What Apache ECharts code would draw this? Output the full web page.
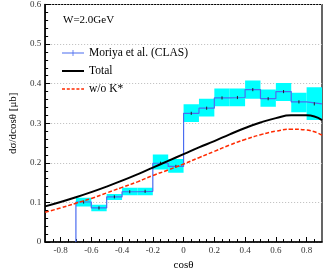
<!DOCTYPE html>
<html>
<head>
<meta charset="utf-8">
<script src="https://cdn.jsdelivr.net/npm/echarts@6/dist/echarts.min.js"></script>
<style>html,body{margin:0;padding:0;background:#fff}#c{width:327px;height:280px}</style>
</head>
<body>
<div id="c"></div>
<script>
// ---- data ----
const binCenters = [-0.65,-0.55,-0.45,-0.35,-0.25,-0.15,-0.05,0.05,0.15,0.25,0.35,0.45,0.55,0.65,0.75,0.85];
const binHalfWidth = 0.05;
const clasVals = [0.101,0.086,0.114,0.127,0.128,0.199,0.191,0.325,0.338,0.364,0.365,0.385,0.362,0.380,0.354,0.349];
const bandLow  = [0.090,0.078,0.106,0.118,0.118,0.183,0.175,0.303,0.317,0.343,0.343,0.362,0.342,0.356,0.328,0.308];
const bandHigh = [0.112,0.094,0.121,0.137,0.137,0.221,0.210,0.348,0.362,0.388,0.388,0.408,0.385,0.402,0.377,0.391];
const statErr  = [0.004,0.004,0.004,0.004,0.004,0.004,0.004,0.004,0.004,0.004,0.004,0.004,0.004,0.004,0.004,0.004];
const cosGrid  = [-0.9,-0.8,-0.7,-0.6,-0.5,-0.4,-0.3,-0.2,-0.1,0,0.1,0.2,0.3,0.4,0.5,0.6,0.7,0.8,0.9];
const totalVals= [0.090,0.101,0.113,0.126,0.140,0.155,0.171,0.188,0.205,0.222,0.239,0.255,0.272,0.288,0.302,0.313,0.320,0.320,0.308];
const woKVals  = [0.075,0.086,0.098,0.110,0.124,0.138,0.152,0.168,0.182,0.197,0.213,0.229,0.245,0.259,0.271,0.280,0.285,0.283,0.270];
const xMajorTicks = [-0.8,-0.6,-0.4,-0.2,0,0.2,0.4,0.6,0.8];
const xMinorTicks = [-0.85,-0.75,-0.7,-0.65,-0.55,-0.5,-0.45,-0.35,-0.3,-0.25,-0.15,-0.1,-0.05,0.05,0.1,0.15,0.25,0.3,0.35,0.45,0.5,0.55,0.65,0.7,0.75,0.85];

// step line points
const stepPts = [[binCenters[0]-binHalfWidth, 0]];
binCenters.forEach((c,i)=>{ stepPts.push([c-binHalfWidth, clasVals[i]]); stepPts.push([c+binHalfWidth, clasVals[i]]); });

const serif = '"Liberation Serif","DejaVu Serif",serif';
const chart = echarts.init(document.getElementById('c'));
chart.setOption({
  animation:false,
  grid:{left:37, top:4, right:5, bottom:38, show:true, borderColor:'#000', borderWidth:1.2},
  graphic:[{type:'text', left:63, top:15, style:{text:'W=2.0GeV', font:'11px '+serif, fill:'#000'}}],
  legend:{
    orient:'vertical', left:57, top:42, itemWidth:22, itemHeight:8, itemGap:6,
    textStyle:{fontFamily:serif, fontSize:11.5, color:'#000'},
    data:[
      {name:'Moriya et al. (CLAS)', icon:'path://M0,3.6h22v0.8h-22z M10.6,1h0.8v6h-0.8z'},
      {name:'Total', icon:'path://M0,3h22v2h-22z'},
      {name:'w/o K*', icon:'path://M0,3.3h3v1.4h-3z M4.8,3.3h3v1.4h-3z M9.6,3.3h3v1.4h-3z M14.4,3.3h3v1.4h-3z M19.2,3.3h2.8v1.4h-2.8z'}
    ]
  },
  xAxis:[{
    type:'value', min:-0.9, max:0.9,
    name:'cosθ', nameLocation:'middle', nameGap:17,
    nameTextStyle:{fontFamily:serif, fontSize:11, color:'#000'},
    axisLine:{onZero:false, lineStyle:{color:'#000', width:1.5}},
    axisTick:{inside:true, length:5, customValues:xMajorTicks, lineStyle:{color:'#000'}},
    axisLabel:{customValues:xMajorTicks, margin:4, fontFamily:serif, fontSize:9, color:'#333',
      formatter:v=>String(Math.round(v*10)/10)},
    splitLine:{show:false}
  },{
    type:'value', min:-0.9, max:0.9, position:'bottom',
    axisLine:{show:false, onZero:false},
    axisTick:{inside:true, length:3, customValues:xMinorTicks, lineStyle:{color:'#000'}},
    axisLabel:{show:false}, splitLine:{show:false}
  }],
  yAxis:{
    type:'value', min:0, max:0.6, interval:0.1,
    name:'dσ/dcosθ [μb]', nameLocation:'middle', nameGap:22,
    nameTextStyle:{fontFamily:serif, fontSize:11, color:'#000'},
    axisLine:{show:true, onZero:false, lineStyle:{color:'#000', width:1.5}},
    axisTick:{inside:true, length:5, lineStyle:{color:'#000'}},
    minorTick:{show:true, splitNumber:5, length:3, lineStyle:{color:'#000'}},
    axisLabel:{margin:4, fontFamily:serif, fontSize:9, color:'#333',
      formatter:v=>String(Math.round(v*10)/10)},
    splitLine:{show:true, lineStyle:{color:'#bbb', type:[1,2], width:1}}
  },
  series:[
    {
      name:'band', type:'custom', silent:true, z:1,
      data:binCenters.map((c,i)=>[c, bandLow[i], bandHigh[i]]),
      renderItem:(params, api)=>{
        const c=api.value(0), lo=api.value(1), hi=api.value(2);
        const p1=api.coord([c-binHalfWidth, hi]), p2=api.coord([c+binHalfWidth, lo]);
        return {type:'rect', shape:{x:p1[0], y:p1[1], width:p2[0]-p1[0], height:p2[1]-p1[1]},
          style:{fill:'#00ffff'}};
      },
      clip:true
    },
    {
      name:'Moriya et al. (CLAS)', type:'line', data:stepPts, symbol:'none', z:3,
      lineStyle:{color:'#4a6cf0', width:1.2}, itemStyle:{color:'#4a6cf0'}
    },
    {
      name:'err', type:'custom', silent:true, z:4,
      data:binCenters.map((c,i)=>[c, clasVals[i]-statErr[i], clasVals[i]+statErr[i]]),
      renderItem:(params, api)=>{
        const a=api.coord([api.value(0), api.value(1)]), b=api.coord([api.value(0), api.value(2)]);
        return {type:'line', shape:{x1:a[0], y1:a[1], x2:b[0], y2:b[1]}, style:{stroke:'#222', lineWidth:1}};
      }
    },
    {
      name:'Total', type:'line', data:cosGrid.map((x,i)=>[x,totalVals[i]]), smooth:true, symbol:'none', z:5,
      lineStyle:{color:'#000', width:2}, itemStyle:{color:'#000'}
    },
    {
      name:'w/o K*', type:'line', data:cosGrid.map((x,i)=>[x,woKVals[i]]), smooth:true, symbol:'none', z:5,
      lineStyle:{color:'#ff2a00', width:1.5, type:[4,2]}, itemStyle:{color:'#ff2a00'}
    }
  ]
});
</script>
</body>
</html>
